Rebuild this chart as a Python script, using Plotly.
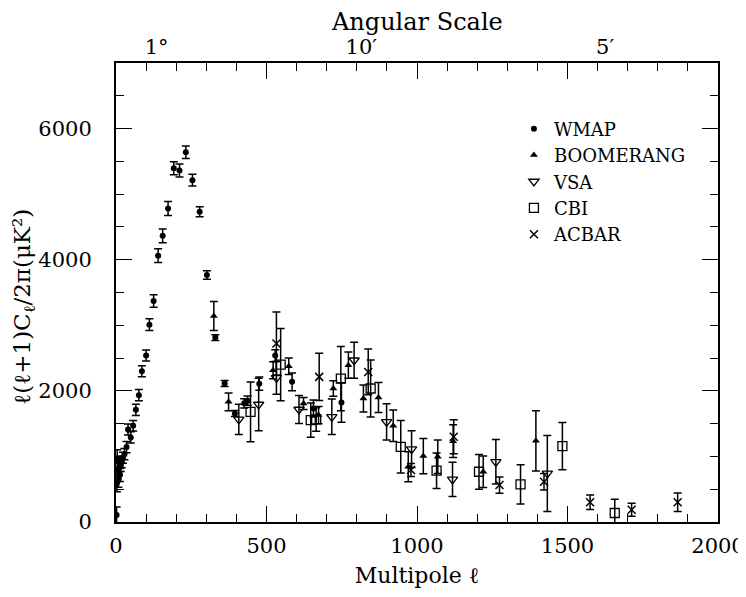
import plotly.graph_objects as go

# ---------------- data ----------------
wmap_l = [2, 3, 4, 6, 8, 10, 13, 16, 19, 23, 28, 35, 40, 49, 57, 66, 76, 86, 100, 111,
          125, 140, 155, 173, 192, 211, 232, 254, 278, 302, 330, 361, 395, 426, 437, 476,
          529, 585, 656, 749]
wmap_v = [107, 590, 970, 780, 640, 818, 716, 860, 918, 980, 1035, 1142, 1411, 1290, 1467,
          1710, 1934, 2299, 2540, 3010, 3370, 4061, 4365, 4781, 5395, 5360, 5639, 5213,
          4731, 3766, 2812, 2112, 1655, 1810, 1850, 2110, 2538, 2137, 1731, 1823]
wmap_e = [120, 130, 130, 120, 110, 100, 100, 90, 90, 85, 85, 85, 85, 85, 80, 85, 85, 85,
          85, 90, 95, 105, 105, 105, 100, 100, 95, 90, 75, 65, 45, 45, 45, 70, 70, 100,
          90, 135, 130, 300]

boom_l = [325, 374, 522, 574, 623, 673, 722, 772, 822, 872, 921, 971, 1021, 1069, 1120,
          1220, 1395]
boom_v = [3142, 1832, 2315, 2375, 1807, 1630, 2036, 2391, 1883, 1899, 1467, 843, 1005,
          995, 1233, 766, 1238]
boom_e = [220, 135, 130, 125, 90, 130, 120, 200, 205, 230, 240, 230, 270, 255, 250, 240,
          460]

vsa_l = [408, 474, 533, 608, 717, 791, 899, 982, 1118, 1262, 1433]
vsa_v = [1564, 1792, 2198, 1716, 1604, 2467, 1527, 1112, 650, 918, 741]
vsa_e = [230, 400, 250, 215, 270, 275, 275, 280, 260, 340, 580]

cbi_l = [447, 547, 647, 665, 747, 846, 946, 1065, 1206, 1344, 1483, 1657]
cbi_v = [1680, 2400, 1553, 1564, 2188, 2036, 1147, 782, 766, 574, 1157, 137]
cbi_e = [455, 550, 260, 180, 490, 435, 400, 270, 265, 300, 360, 210]

acbar_l = [533, 675, 838, 980, 1122, 1274, 1422, 1575, 1713, 1866]
acbar_v = [2721, 2213, 2289, 792, 1300, 563, 614, 301, 187, 301]
acbar_e = [480, 360, 350, 100, 260, 125, 125, 110, 100, 140]

top_tick_l = [135, 815, 1625]
top_tick_text = ["1°", "10′", "5′"]

# ---------------- figure ----------------
FONT = "DejaVu Serif"
fig = go.Figure()

def add(name, l, v, e, symbol, size, lw=0):
    fig.add_trace(go.Scatter(
        x=l, y=v, mode="markers", name=name, legendgroup=name,
        marker=dict(symbol=symbol, size=size, color="black",
                    line=dict(color="black", width=lw)),
        error_y=dict(type="data", array=e, visible=True, color="black",
                     thickness=1.5, width=4),
    ))

add("WMAP", wmap_l, wmap_v, wmap_e, "circle", 6)
add("BOOMERANG", boom_l, boom_v, boom_e, "triangle-up", 7)
add("VSA", vsa_l, vsa_v, vsa_e, "triangle-down-open", 9, 1.3)
add("CBI", cbi_l, cbi_v, cbi_e, "square-open", 9, 1.3)
add("ACBAR", acbar_l, acbar_v, acbar_e, "x-thin-open", 8, 1.5)

# invisible trace on the top axis for the angular-scale labels
fig.add_trace(go.Scatter(x=top_tick_l, y=[None] * len(top_tick_l), xaxis="x2",
                         showlegend=False, hoverinfo="skip"))

axis_common = dict(showline=True, linecolor="black", linewidth=2, mirror="ticks",
                   ticks="inside", tickcolor="black", tickwidth=1.3, showgrid=False,
                   zeroline=False, automargin=False,
                   tickfont=dict(family=FONT, size=21, color="black"))

# the page body adds an 8px offset, so the figure is 8px smaller than the window
fig.update_layout(
    width=738, height=589,
    margin=dict(l=108, r=28, t=55, b=75),
    plot_bgcolor="white", paper_bgcolor="white",
    xaxis=dict(range=[0, 2000], dtick=500, ticklen=16,
               minor=dict(dtick=100, ticklen=8, ticks="inside", tickcolor="black",
                          tickwidth=1.3),
               ticklabelstandoff=4,
               title=dict(text="Multipole ℓ", font=dict(family=FONT, size=22, color="black"),
                          standoff=10),
               **axis_common),
    yaxis=dict(range=[0, 7000], dtick=2000, ticklen=16,
               minor=dict(dtick=500, ticklen=8, ticks="inside", tickcolor="black",
                          tickwidth=1.3),
               ticklabelstandoff=18,
               **axis_common),
    xaxis2=dict(overlaying="x", side="top", range=[0, 2000], tickvals=top_tick_l,
                ticktext=top_tick_text, ticks="", showline=False, showgrid=False,
                zeroline=False, ticklabelstandoff=4, automargin=False,
                tickfont=dict(family=FONT, size=21, color="black")),
    legend=dict(x=0.661, y=0.8965, xanchor="left", yanchor="top",
                font=dict(family=FONT, size=18, color="black"),
                bgcolor="rgba(0,0,0,0)", traceorder="grouped", tracegroupgap=0),
    annotations=[
        dict(text="ℓ(ℓ+1)C<sub>ℓ</sub>/2π(μK²)", textangle=-90,
             xref="paper", yref="paper", x=-0.152, y=0.47,
             xanchor="center", yanchor="middle", showarrow=False,
             font=dict(family=FONT, size=23, color="black")),
        dict(text="Angular Scale", xref="paper", yref="paper", x=0.5, y=1.0893,
             xanchor="center", yanchor="middle", showarrow=False,
             font=dict(family=FONT, size=24, color="black")),
    ],
    showlegend=True,
)

fig.write_html("out.html")
